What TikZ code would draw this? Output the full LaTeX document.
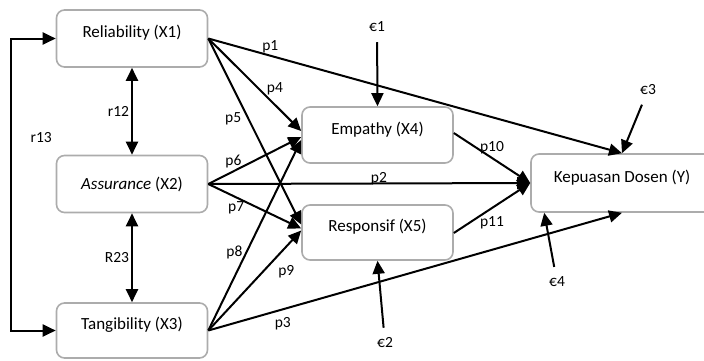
\documentclass[tikz,border=0pt]{standalone}
\usepackage{fontspec}
\setmainfont{Carlito}
\usetikzlibrary{arrows.meta}

\tikzset{
  var/.style={draw=gray!65, line width=1.6pt, rounded corners=8pt, fill=white,
    minimum width=151pt, minimum height=57pt, font=\fontsize{17}{20}\selectfont,
    text height=13pt, text depth=15pt},
  coef/.style={font=\fontsize{15.5}{18}\selectfont, inner sep=2pt},
  path/.style={->, line width=2pt},
}

\begin{document}
\begin{tikzpicture}[x=1pt, y=-1pt, >={Triangle[length=13pt,width=12pt]}]
\useasboundingbox (0,0) rectangle (704,360);

\node[var] (Rel) at (132, 38.5) {Reliability (X1)};
\node[var, text height=, text depth=] (Ass) at (132, 184) {\textit{Assurance} (X2)};
\node[var, minimum height=55pt] (Tan) at (132, 330.5) {Tangibility (X3)};
\node[var, minimum height=56pt] (Emp) at (377.5, 135) {Empathy (X4)};
\node[var, minimum height=55pt] (Res) at (377.5, 232.5) {Responsif (X5)};
\node[var, minimum width=182pt, minimum height=58pt] (Kep) at (622, 183) {Kepuasan Dosen (Y)};

\node[coef] (E1) at (377, 27) {€1};
\node[coef] (E2) at (385, 343) {€2};
\node[coef] (E3) at (648, 90) {€3};
\node[coef] (E4) at (557, 282) {€4};

% correlations
\draw[<->, line width=2pt] (Rel.west) -- ++(-45,0) |- node[coef, pos=0.17, right=17pt] {r13} (Tan.west);
\draw[<->, line width=2pt] (Rel.south) -- node[coef, left] {r12} (Ass.north);
\draw[<->, line width=2pt] (Ass.south) -- node[coef, left] {R23} (Tan.north);

% paths
\draw[path] (Rel.east) -- node[coef, pos=0.15, above] {p1} (Kep.north);
\draw[path] (Rel.east) -- node[coef, pos=0.62, above right=-2pt] {p4} ([yshift=4pt]Emp.west);
\draw[path] (Rel.east) -- node[coef, pos=0.43, left=4pt] {p5} ([yshift=8pt]Res.west);
\draw[path] (Ass.east) -- node[coef, pos=0.27, above] {p6} ([yshift=-2pt]Emp.west);
\draw[path] (Ass.east) -- node[coef, pos=0.53, above=-5pt] {p2} (Kep.west);
\draw[path] (Ass.east) -- node[coef, pos=0.3, below=1pt] {p7} ([yshift=4pt]Res.west);
\draw[path] (Tan.east) -- node[coef, pos=0.41, left=1pt] {p8} ([yshift=-5pt]Emp.west);
\draw[path] (Tan.east) -- node[coef, pos=0.7, below right=2pt] {p9} ([yshift=2pt]Res.west);
\draw[path] (Tan.east) -- node[coef, pos=0.18, below=5pt] {p3} (Kep.south);
\draw[path] ([yshift=2pt]Emp.east) -- node[coef, pos=0.5, above=1pt] {p10} (Kep.west);
\draw[path] ([yshift=-0.5pt]Res.east) -- node[coef, pos=0.5, below=6pt] {p11} (Kep.west);

% errors
\draw[path, shorten <=8pt] (E1) -- (Emp.north);
\draw[path, shorten <=8pt] (E2) -- (Res.south);
\draw[path, shorten <=8pt] (E3) -- (Kep.north);
\draw[path, shorten <=8pt] (E4) -- ([xshift=14pt]Kep.south west);
\end{tikzpicture}
\end{document}
